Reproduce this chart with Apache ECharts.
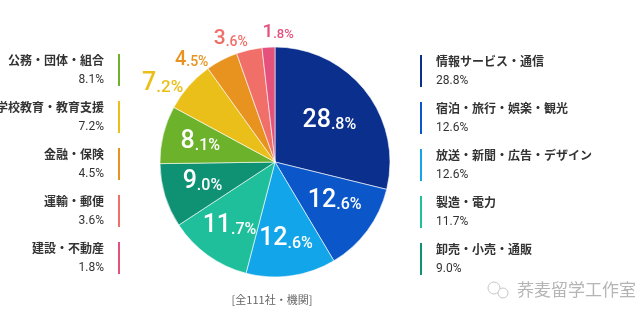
<!DOCTYPE html>
<html><head><meta charset="utf-8">
<script src="https://cdn.jsdelivr.net/npm/echarts@6/dist/echarts.min.js"></script>
<style>html,body{margin:0;padding:0;background:#fff}#c{width:641px;height:323px}</style>
</head><body><div id="c"></div>
<script>
const categories = ['情報サービス・通信','宿泊・旅行・娯楽・観光','放送・新聞・広告・デザイン','製造・電力','卸売・小売・通販','公務・団体・組合','学校教育・教育支援','金融・保険','運輸・郵便','建設・不動産'];
const values = [28.8,12.6,12.6,11.7,9.0,8.1,7.2,4.5,3.6,1.8];
const colors = ['#0b2f8c','#0b57c9','#13a5ea','#1fbf9c','#0f9274','#6cb22b','#eabf1a','#e8921f','#f06f69','#e5517d'];
const outsideIdx = [6,7,8,9];
const caption = '[全111社・機関]';
const watermark = '荞麦留学工作室';

const NUM = 'Roboto,"Liberation Sans",sans-serif';
const CJK = '"Noto Sans CJK JP","Noto Sans",sans-serif';

// label styling (not data)
const outSize = {6:[25,17],7:[20,14],8:[21,14],9:[19,13]};
const outOffset = {6:[-8,14],7:[-19,21],8:[-13,12],9:[11,9]};
const inOffset = {0:[-7,7],1:[-3,-8],4:[2,-3],5:[1,-2]};

function split(v){ const s=v.toFixed(1); const i=s.indexOf('.'); return [s.slice(0,i), s.slice(i)+'%']; }

const main = categories.map((n,i)=>({name:n,value:values[i],itemStyle:{color:colors[i]}}));
const innerLabels = categories.map((n,i)=>({name:n,value:values[i],
  label:{show: outsideIdx.indexOf(i)<0, offset: inOffset[i]||[0,0]}}));
const outerLabels = categories.map((n,i)=>{
  const o = outsideIdx.indexOf(i)>=0;
  const sz = outSize[i]||[20,14];
  return {name:n,value:values[i],label:{show:o, offset: outOffset[i]||[0,0],
    rich:{b:{fontSize:sz[0],fontFamily:NUM,fontWeight:500,color:colors[i],verticalAlign:'bottom',lineHeight:sz[0]},
          s:{fontSize:sz[1],fontFamily:NUM,fontWeight:500,color:colors[i],verticalAlign:'bottom',lineHeight:sz[0]}}}};
});
const fmt = p => { const a=split(p.value); return '{b|'+a[0]+'}{s|'+a[1]+'}'; };

const overlayBase = {type:'pie',center:[275,162],startAngle:90,clockwise:true,silent:true,
  itemStyle:{color:'rgba(0,0,0,0)'},emphasis:{disabled:true},labelLine:{show:false},tooltip:{show:false},
  animation:false};

function legendFmt(name){ const i=categories.indexOf(name); return '{n|'+name+'}\n{p|'+values[i].toFixed(1)+'%}'; }
const legendRich = {n:{fontSize:12,fontFamily:CJK,fontWeight:'bold',color:'#333',lineHeight:20},
                    p:{fontSize:12,fontFamily:NUM,color:'#333',lineHeight:20}};

const chart = echarts.init(document.getElementById('c'));
chart.setOption({
  backgroundColor:'#fff',
  animation:false,
  legend:[
    {orient:'vertical',left:413,top:48,data:categories.slice(0,5),icon:'rect',itemWidth:4,itemHeight:34,itemGap:11,
     formatter:legendFmt,textStyle:{padding:[0,0,0,8],rich:legendRich},selectedMode:false},
    {orient:'vertical',right:514,top:47,align:'right',data:categories.slice(5),icon:'rect',itemWidth:4,itemHeight:34,itemGap:11,
     formatter:legendFmt,textStyle:{padding:[0,8,0,0],align:'right',rich:{n:Object.assign({},legendRich.n,{align:'right'}),p:Object.assign({},legendRich.p,{align:'right'})}},selectedMode:false}
  ],
  series:[
    {type:'pie',center:[275,162],radius:[0,115],startAngle:90,clockwise:true,data:main,
     label:{show:false},labelLine:{show:false},itemStyle:{borderColor:'#fff',borderWidth:0.6},animation:false},
    Object.assign({},overlayBase,{radius:[35,115],data:innerLabels,
     label:{position:'inside',formatter:fmt,
       rich:{b:{fontSize:25,fontFamily:NUM,fontWeight:500,color:'#fff',verticalAlign:'bottom',lineHeight:25},
             s:{fontSize:16,fontFamily:NUM,fontWeight:500,color:'#fff',verticalAlign:'bottom',lineHeight:25}}}}),
    Object.assign({},overlayBase,{radius:[120,152],data:outerLabels,
     label:{position:'inside',formatter:fmt}})
  ],
  graphic:[
    {type:'text',x:272,y:300,style:{text:caption,fill:'#666',font:'11px '+CJK,textAlign:'center',textVerticalAlign:'middle'}},
    {type:'text',style:{text:watermark,fill:'#b5b5b5',font:'17px '+CJK,x:517,y:281}},
    {type:'circle',shape:{cx:494,cy:288,r:6},style:{fill:'none',stroke:'#c8c8c8',lineWidth:1}},
    {type:'circle',shape:{cx:503,cy:293,r:5},style:{fill:'#fff',stroke:'#c8c8c8',lineWidth:1}}
  ]
});
</script></body></html>
